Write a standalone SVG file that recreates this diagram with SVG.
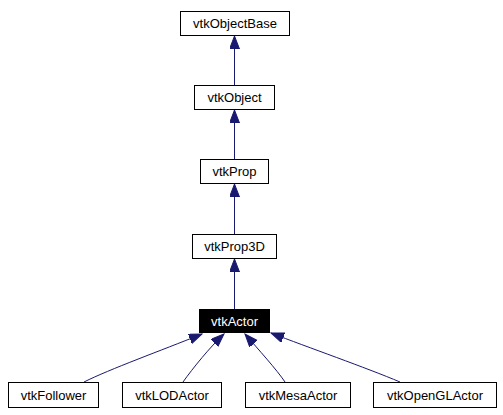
<svg xmlns="http://www.w3.org/2000/svg" width="503" height="415" viewBox="0 0 503 415">
<style>
.box{fill:#ffffff;stroke:#000000;stroke-width:1}
.hl{fill:#000000;stroke:#000000;stroke-width:1}
.lbl{font-family:"Liberation Sans",Arial,sans-serif;font-size:13px;fill:#000000;text-anchor:middle}
.lblw{font-family:"Liberation Sans",Arial,sans-serif;font-size:13px;fill:#ffffff;text-anchor:middle}
.edge{fill:none;stroke:#191970;stroke-width:1;marker-end:url(#arr)}
</style>
<defs>
<marker id="arr" markerUnits="userSpaceOnUse" markerWidth="14" markerHeight="11" refX="13" refY="5" orient="auto">
<path d="M0,0 L13,5 L0,10 Z" fill="#191970" stroke="#191970" stroke-width="1"/>
</marker>
</defs>
<rect x="0" y="0" width="503" height="415" fill="#ffffff"/>
<g id="edges">
<path class="edge" d="M234.5,85 L234.5,36"/>
<path class="edge" d="M234.5,159 L234.5,110"/>
<path class="edge" d="M234.5,234 L234.5,184"/>
<path class="edge" d="M234.5,309 L234.5,259"/>
<path class="edge" d="M84,382 C110,369 160,351 202,334"/>
<path class="edge" d="M183,382 C193,368 210,347 224,334"/>
<path class="edge" d="M285,382 C277,370 258,349 245,334"/>
<path class="edge" d="M400,382 C367,368 307,347 271,333"/>
</g>
<g id="vtkObjectBase">
<rect class="box" x="180.5" y="11.5" width="109" height="24"/>
<text class="lbl" x="235" y="28">vtkObjectBase</text>
</g>
<g id="vtkObject">
<rect class="box" x="194.5" y="85.5" width="80" height="24"/>
<text class="lbl" x="234.5" y="102">vtkObject</text>
</g>
<g id="vtkProp">
<rect class="box" x="200.5" y="159.5" width="68" height="24"/>
<text class="lbl" x="234.5" y="176">vtkProp</text>
</g>
<g id="vtkProp3D">
<rect class="box" x="192.5" y="234.5" width="84" height="24"/>
<text class="lbl" x="234.5" y="251">vtkProp3D</text>
</g>
<g id="vtkActor">
<rect class="hl" x="199.5" y="309.5" width="70" height="23"/>
<text class="lblw" x="234.5" y="326">vtkActor</text>
</g>
<g id="vtkFollower">
<rect class="box" x="8.5" y="382.5" width="90" height="25"/>
<text class="lbl" x="53.5" y="400">vtkFollower</text>
</g>
<g id="vtkLODActor">
<rect class="box" x="122.5" y="382.5" width="99" height="25"/>
<text class="lbl" x="172" y="400">vtkLODActor</text>
</g>
<g id="vtkMesaActor">
<rect class="box" x="245.5" y="382.5" width="105" height="25"/>
<text class="lbl" x="298" y="400">vtkMesaActor</text>
</g>
<g id="vtkOpenGLActor">
<rect class="box" x="373.5" y="382.5" width="123" height="25"/>
<text class="lbl" x="435" y="400">vtkOpenGLActor</text>
</g>
</svg>
